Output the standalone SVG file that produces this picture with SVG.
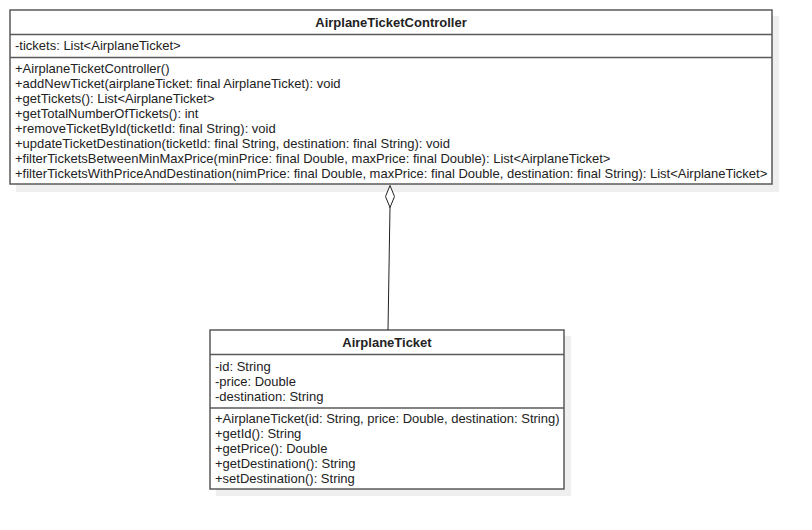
<svg xmlns="http://www.w3.org/2000/svg" width="812" height="530" viewBox="0 0 812 530">
<style>
.shadow{fill:#efefef;stroke:none}
.box{fill:#ffffff;stroke:#5a5a5a;stroke-width:1.5}
.sep{stroke:#5a5a5a;stroke-width:1.5}
text{font-family:"Liberation Sans",Arial,sans-serif;font-size:13px;fill:#222}
.title{font-weight:bold;text-anchor:middle}
.conn{stroke:#222;stroke-width:1;fill:none}
.dia{stroke:#222;stroke-width:1;fill:#fff}
</style>
<rect width="812" height="530" fill="#fff"/>
<g id="AirplaneTicketController">
<rect class="shadow" x="16" y="16" width="763" height="176"/>
<rect class="box" x="10" y="10" width="762" height="174"/>
<line class="sep" x1="10" y1="34.5" x2="772" y2="34.5"/>
<line class="sep" x1="10" y1="57.5" x2="772" y2="57.5"/>
<text class="title" x="391" y="27">AirplaneTicketController</text>
<text x="15" y="50">-tickets: List&lt;AirplaneTicket&gt;</text>
<text x="15" y="73">+AirplaneTicketController()</text>
<text x="15" y="88">+addNewTicket(airplaneTicket: final AirplaneTicket): void</text>
<text x="15" y="103">+getTickets(): List&lt;AirplaneTicket&gt;</text>
<text x="15" y="118">+getTotalNumberOfTickets(): int</text>
<text x="15" y="133">+removeTicketById(ticketId: final String): void</text>
<text x="15" y="148">+updateTicketDestination(ticketId: final String, destination: final String): void</text>
<text x="15" y="163">+filterTicketsBetweenMinMaxPrice(minPrice: final Double, maxPrice: final Double): List&lt;AirplaneTicket&gt;</text>
<text x="15" y="178">+filterTicketsWithPriceAndDestination(nimPrice: final Double, maxPrice: final Double, destination: final String): List&lt;AirplaneTicket&gt;</text>
</g>
<g id="AirplaneTicket">
<rect class="shadow" x="216" y="336" width="355" height="160"/>
<rect class="box" x="210" y="330" width="354" height="159"/>
<line class="sep" x1="210" y1="354.5" x2="564" y2="354.5"/>
<line class="sep" x1="210" y1="408" x2="564" y2="408"/>
<text class="title" x="387" y="347">AirplaneTicket</text>
<text x="215" y="370.5">-id: String</text>
<text x="215" y="385.5">-price: Double</text>
<text x="215" y="400.5">-destination: String</text>
<text x="215" y="423">+AirplaneTicket(id: String, price: Double, destination: String)</text>
<text x="215" y="438">+getId(): String</text>
<text x="215" y="453">+getPrice(): Double</text>
<text x="215" y="468">+getDestination(): String</text>
<text x="215" y="483">+setDestination(): String</text>
</g>
<g id="connectors">
<line class="conn" x1="388" y1="330" x2="390" y2="207"/>
<polygon class="dia" points="390,185.5 394.5,196.5 390,207.5 385.5,196.5"/>
</g>
</svg>
